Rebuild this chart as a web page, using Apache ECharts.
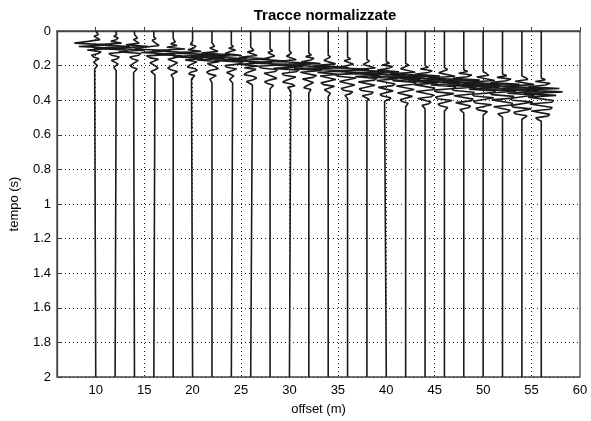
<!DOCTYPE html>
<html>
<head>
<meta charset="utf-8">
<script src="https://cdn.jsdelivr.net/npm/echarts@6/dist/echarts.min.js"></script>
<style>
  html, body { margin: 0; padding: 0; background: #fff; }
  #chart { width: 591px; height: 421px; }
</style>
</head>
<body>
<div id="chart"></div>
<script>
// Trace positions along the line (m)
const offsets = [10, 12, 14, 16, 18, 20, 22, 24, 26, 28, 30, 32, 34, 36, 38, 40, 42, 44, 46, 48, 50, 52, 54, 56];

// Time of the first picked sample of each trace (s)
const onsets = [0.010, 0.020, 0.030, 0.044, 0.054, 0.068, 0.078, 0.090, 0.102, 0.114, 0.126, 0.138,
                0.150, 0.162, 0.174, 0.186, 0.198, 0.210, 0.222, 0.234, 0.246, 0.258, 0.270, 0.282];

// Sample interval of the traces (s)
const dt = 0.01;

// Normalized amplitudes of each trace, one row per offset
const traces = [
  [0.05,0.12,-0.08,-0.15,0.20,-0.35,-1.00,0.55,-0.80,0.90,-0.40,0.25,0.12,-0.20,-0.10,0.15,0.20,-0.10,-0.15,0.08,0.10,-0.05],
  [0.08,-0.06,0.15,0.05,-0.20,0.30,-0.85,0.70,-1.00,0.45,0.60,-0.30,-0.15,0.20,0.10,-0.18,-0.12,0.14,0.16,-0.06,-0.10,0.05],
  [0.06,0.14,-0.05,-0.12,0.22,-0.40,0.65,-1.00,0.50,-0.75,0.30,0.20,-0.22,-0.12,0.18,0.24,-0.08,-0.20,-0.10,0.12,0.08,-0.04],
  [0.10,-0.08,-0.14,0.12,0.25,-0.45,-0.90,0.80,-0.60,1.00,-0.35,-0.20,0.22,0.15,-0.18,-0.25,0.10,0.20,0.06,-0.14,-0.08,0.05],
  [0.04,0.10,-0.12,0.18,-0.30,0.55,-1.00,0.70,-0.85,0.40,0.45,-0.25,-0.30,0.20,0.28,-0.10,-0.26,-0.12,0.20,0.15,-0.10,-0.06],
  [0.08,-0.10,0.16,0.06,-0.22,0.40,-0.75,1.00,-0.90,0.50,-0.35,0.20,0.28,-0.15,-0.25,0.12,0.22,-0.08,-0.18,0.10,0.12,-0.05],
  [0.06,0.12,-0.10,-0.18,0.28,-0.50,0.85,-1.00,0.60,-0.70,0.35,-0.22,-0.28,0.18,0.30,-0.10,-0.25,-0.15,0.20,0.12,-0.10,-0.04],
  [0.10,-0.12,0.20,-0.08,-0.30,0.45,-1.00,0.75,-0.80,0.55,0.40,-0.30,-0.20,0.25,0.18,-0.22,-0.26,0.12,0.20,-0.08,-0.12,0.06],
  [0.08,0.14,-0.16,-0.10,0.30,-0.55,0.90,-0.95,1.00,-0.60,0.35,-0.30,0.25,0.30,-0.20,-0.32,0.10,0.28,0.12,-0.20,-0.15,0.08],
  [0.12,-0.10,-0.18,0.22,0.15,-0.40,0.70,-1.00,0.80,-0.55,-0.40,0.35,0.25,-0.28,-0.30,0.15,0.32,-0.05,-0.26,-0.12,0.16,0.08],
  [0.10,0.16,-0.14,-0.22,0.32,-0.60,1.00,-0.85,0.65,-0.75,0.45,0.30,-0.35,-0.25,0.30,0.28,-0.18,-0.32,0.10,0.26,-0.08,-0.14,0.06],
  [0.12,-0.15,0.24,0.10,-0.35,0.55,-0.90,1.00,-0.70,0.60,-0.40,-0.32,0.36,0.20,-0.30,-0.28,0.22,0.30,-0.12,-0.24,0.10,0.12],
  [0.10,0.18,-0.20,-0.12,0.35,-0.65,0.95,-1.00,0.75,-0.50,0.45,-0.38,-0.30,0.36,0.28,-0.34,-0.22,0.30,0.24,-0.18,-0.20,0.10,0.06],
  [0.14,-0.16,-0.22,0.28,0.20,-0.55,1.00,-0.80,0.90,-0.60,-0.45,0.40,0.32,-0.38,-0.30,0.34,0.26,-0.30,-0.20,0.24,0.14,-0.12,-0.06],
  [0.12,0.20,-0.18,-0.26,0.40,-0.70,0.85,-1.00,0.65,-0.55,0.48,0.35,-0.40,-0.32,0.38,0.30,-0.36,-0.25,0.30,0.20,-0.22,-0.14,0.10],
  [0.15,-0.20,0.30,0.12,-0.42,0.60,-1.00,0.90,-0.75,0.55,-0.45,-0.40,0.42,0.30,-0.38,-0.34,0.32,0.28,-0.30,-0.18,0.22,0.12,-0.08],
  [0.14,0.22,-0.24,-0.18,0.45,-0.75,1.00,-0.85,0.70,-0.62,0.50,0.38,-0.44,-0.35,0.40,0.36,-0.38,-0.30,0.32,0.24,-0.26,-0.16,0.12,0.06],
  [0.16,-0.22,0.34,0.14,-0.48,0.70,-0.95,1.00,-0.80,0.60,-0.50,-0.42,0.46,0.34,-0.42,-0.36,0.40,0.30,-0.34,-0.26,0.28,0.18,-0.14,-0.06],
  [0.15,0.24,-0.26,-0.20,0.50,-0.80,1.00,-0.90,0.72,-0.64,0.55,0.42,-0.48,-0.38,0.45,0.40,-0.42,-0.32,0.36,0.28,-0.30,-0.20,0.16,0.08],
  [0.18,-0.24,0.38,0.16,-0.52,0.75,-1.00,0.95,-0.78,0.62,-0.56,-0.46,0.50,0.40,-0.46,-0.40,0.44,0.34,-0.38,-0.30,0.32,0.22,-0.18,-0.10],
  [0.16,0.26,-0.30,-0.22,0.55,-0.85,0.95,-1.00,0.76,-0.66,0.58,0.48,-0.52,-0.42,0.50,0.42,-0.46,-0.36,0.40,0.32,-0.34,-0.24,0.20,0.10],
  [0.20,-0.26,0.40,0.18,-0.56,0.80,-1.00,0.92,-0.80,0.64,-0.60,-0.50,0.54,0.44,-0.50,-0.44,0.48,0.38,-0.42,-0.34,0.36,0.26,-0.22,-0.12],
  [0.18,0.28,-0.32,-0.24,0.58,-0.88,1.00,-0.95,0.78,-0.68,0.60,0.52,-0.56,-0.46,0.52,0.46,-0.50,-0.40,0.44,0.36,-0.38,-0.28,0.24,0.14],
  [0.20,-0.28,0.42,0.20,-0.60,0.85,-0.98,1.00,-0.82,0.70,-0.62,-0.54,0.58,0.48,-0.54,-0.48,0.52,0.42,-0.46,-0.38,0.40,0.30,-0.26,-0.16]
];

// Tick values of the offset axis
const offsetTicks = [10, 15, 20, 25, 30, 35, 40, 45, 50, 55, 60];

// Horizontal deflection of a unit amplitude, in offset units
const gain = 2.2;

const font = 'Liberation Sans, Arial, sans-serif';

function traceSeries(k) {
  const o = offsets[k];
  const t0 = onsets[k];
  const amps = traces[k];
  const pts = [[o, 0], [o, t0 - dt]];
  amps.forEach((a, i) => pts.push([o + gain * a, t0 + i * dt]));
  pts.push([o, t0 + amps.length * dt]);
  pts.push([o, 2]);
  return {
    type: 'line',
    data: pts,
    showSymbol: false,
    symbol: 'none',
    silent: true,
    z: 3,
    lineStyle: { color: '#1a1a1a', width: 1.6 }
  };
}

const series = offsets.map((_, k) => traceSeries(k));

// Dotted grid on the offset ticks
series.push({
  type: 'line',
  data: [],
  silent: true,
  z: 1,
  markLine: {
    silent: true,
    symbol: 'none',
    label: { show: false },
    lineStyle: { color: '#222', type: [1, 3], width: 1 },
    data: offsetTicks.slice(0, -1).map(v => ({ xAxis: v }))
  }
});

const chart = echarts.init(document.getElementById('chart'), null, { renderer: 'canvas' });
chart.setOption({
  animation: false,
  backgroundColor: '#fff',
  title: {
    text: 'Tracce normalizzate',
    left: 320,
    textAlign: 'center',
    top: 3,
    textStyle: { fontFamily: font, fontWeight: 'bold', fontSize: 15, color: '#000' }
  },
  grid: {
    left: 57, top: 31, right: 11, bottom: 44,
    show: true, borderColor: '#444', borderWidth: 1.3, backgroundColor: 'transparent'
  },
  xAxis: {
    type: 'value',
    min: 6, max: 60,
    name: 'offset (m)',
    nameLocation: 'middle',
    nameGap: 26,
    nameTextStyle: { fontFamily: font, fontSize: 13, color: '#000' },
    axisLine: { show: true, lineStyle: { color: '#444', width: 1.3 } },
    axisTick: { show: true, inside: true, length: 4, customValues: offsetTicks, lineStyle: { color: '#444' } },
    axisLabel: { customValues: offsetTicks, fontFamily: font, fontSize: 13, color: '#000', margin: 7 },
    splitLine: { show: false }
  },
  yAxis: {
    type: 'value',
    inverse: true,
    min: 0, max: 2, interval: 0.2,
    name: 'tempo (s)',
    nameLocation: 'middle',
    nameGap: 36,
    nameTextStyle: { fontFamily: font, fontSize: 13, color: '#000' },
    axisLine: { show: true, lineStyle: { color: '#444', width: 1.3 } },
    axisTick: { show: true, inside: true, length: 4, lineStyle: { color: '#444' } },
    axisLabel: {
      fontFamily: font, fontSize: 13, color: '#000', margin: 6,
      formatter: v => String(Math.round(v * 10) / 10)
    },
    splitLine: { show: true, lineStyle: { color: '#222', type: [1, 3], width: 1 } }
  },
  series: series
});
</script>
</body>
</html>
